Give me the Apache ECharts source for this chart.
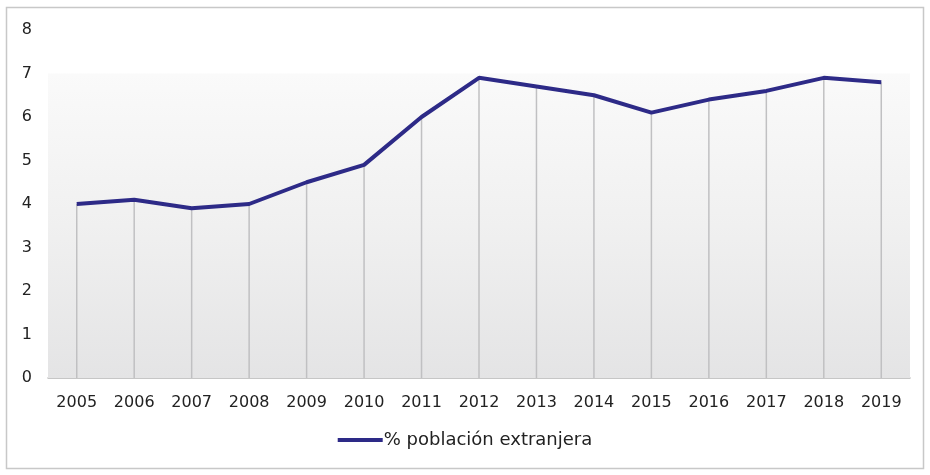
<!DOCTYPE html>
<html>
<head>
<meta charset="utf-8">
<script src="https://cdn.jsdelivr.net/npm/echarts@6/dist/echarts.min.js"></script>
<style>
  html, body { margin: 0; padding: 0; background: #fff; }
  #chart { width: 930px; height: 475px; }
</style>
</head>
<body>
<div id="chart"></div>
<script>
// Años y porcentaje de población extranjera
const years = ['2005','2006','2007','2008','2009','2010','2011','2012','2013','2014','2015','2016','2017','2018','2019'];
const pctForeign = [4.0, 4.1, 3.9, 4.0, 4.5, 4.9, 6.0, 6.9, 6.7, 6.5, 6.1, 6.4, 6.6, 6.9, 6.8];
const seriesName = '% población extranjera';
const yTicks = { min: 0, max: 8, interval: 1 };
const shadedBand = [0, 7];

const font = '"DejaVu Sans", "Noto Sans", sans-serif';
const chart = echarts.init(document.getElementById('chart'));

chart.setOption({
  animation: false,
  textStyle: { fontFamily: font },
  graphic: [{
    type: 'rect',
    shape: { x: 6.5, y: 7.5, width: 917, height: 461 },
    style: { fill: 'none', stroke: '#c8c8c8', lineWidth: 1.5 },
    silent: true
  }],
  grid: { left: 48, right: 20, top: 30, bottom: 97 },
  legend: {
    data: [{ name: seriesName, icon: 'rect' }],
    bottom: 21,
    left: 'center',
    itemWidth: 45,
    itemHeight: 4,
    itemGap: 10,
    textStyle: { fontSize: 18, color: '#222', fontFamily: font, padding: [0, 0, 0, -4] }
  },
  xAxis: {
    type: 'category',
    data: years,
    boundaryGap: true,
    axisLine: { show: true, lineStyle: { color: '#b4b4b4', width: 1.5 } },
    axisTick: { show: false },
    axisLabel: { fontSize: 16, color: '#222', margin: 17, interval: 0 },
    splitLine: { show: false }
  },
  yAxis: {
    type: 'value',
    min: yTicks.min,
    max: yTicks.max,
    interval: yTicks.interval,
    axisLine: { show: false },
    axisTick: { show: false },
    axisLabel: { fontSize: 16, color: '#222', margin: 16 },
    splitLine: { show: false }
  },
  series: [
    {
      // líneas verticales desde cada punto hasta el eje
      name: 'drop',
      type: 'bar',
      data: pctForeign,
      barWidth: 1.5,
      itemStyle: { color: '#c0c0c2' },
      silent: true,
      z: 2,
      markArea: {
        silent: true,
        itemStyle: {
          color: new echarts.graphic.LinearGradient(0, 0, 0, 1, [
            { offset: 0, color: '#fafafa' },
            { offset: 0.5, color: '#f0f0f0' },
            { offset: 1, color: '#e4e4e5' }
          ])
        },
        data: [[{ yAxis: shadedBand[0] }, { yAxis: shadedBand[1] }]]
      }
    },
    {
      name: seriesName,
      type: 'line',
      data: pctForeign,
      symbol: 'none',
      lineStyle: { color: '#2d2a87', width: 4 },
      itemStyle: { color: '#2d2a87' },
      z: 5
    }
  ]
});
</script>
</body>
</html>
